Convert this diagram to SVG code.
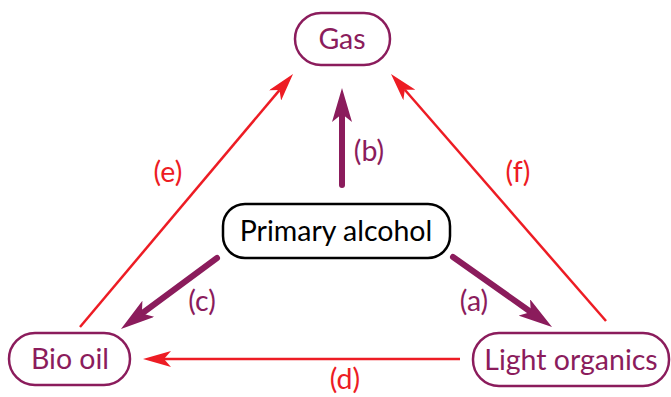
<svg xmlns="http://www.w3.org/2000/svg" width="671" height="397" viewBox="0 0 671 397">
<defs>
<style>
.node rect{fill:#fff;stroke:#8B1C5C;stroke-width:2.5}
.node.main rect{stroke:#000}
text{font-family:Lato,"Open Sans",sans-serif;font-size:28.5px;text-anchor:middle}
.node text{fill:#8B1C5C}
.node.main text{fill:#000}
.thick{stroke:#8B1C5C;stroke-width:6;stroke-linecap:round;fill:none}
.thin{stroke:#ED1C24;stroke-width:2.5;fill:none}
.lbl-p{fill:#8B1C5C}
.lbl-r{fill:#ED1C24}
</style>
<marker id="hp" markerUnits="userSpaceOnUse" markerWidth="34" markerHeight="20" refX="8" refY="10" orient="auto" viewBox="0 0 34 20">
<path d="M0,0 L34,10 L0,20 L8,10 Z" fill="#8B1C5C"/>
</marker>
<marker id="hr" markerUnits="userSpaceOnUse" markerWidth="28" markerHeight="16" refX="7" refY="8" orient="auto" viewBox="0 0 28 16">
<path d="M0,0 L28,8 L0,16 L7,8 Z" fill="#ED1C24"/>
</marker>
</defs>
<rect width="671" height="397" fill="#fff"/>
<g id="connectors">
<line class="thick" x1="342" y1="185" x2="342" y2="114" marker-end="url(#hp)"/>
<line class="thick" x1="217" y1="258" x2="141.9" y2="313.5" marker-end="url(#hp)"/>
<line class="thick" x1="453" y1="257" x2="530.8" y2="312" marker-end="url(#hp)"/>
<line class="thin" x1="460" y1="359" x2="164" y2="359" marker-end="url(#hr)"/>
<line class="thin" x1="80" y1="327" x2="279.5" y2="90.1" marker-end="url(#hr)"/>
<line class="thin" x1="606" y1="321" x2="404.8" y2="89.8" marker-end="url(#hr)"/>
<text class="lbl-p" x="369" y="161">(b)</text>
<text class="lbl-p" x="202" y="311">(c)</text>
<text class="lbl-p" x="474" y="311">(a)</text>
<text class="lbl-r" x="345" y="389">(d)</text>
<text class="lbl-r" x="168" y="182">(e)</text>
<text class="lbl-r" x="518" y="182">(f)</text>
</g>
<g id="gas" class="node"><rect x="295" y="13" width="95" height="52" rx="26"/><text x="342" y="49">Gas</text></g>
<g id="primary" class="node main"><rect x="223" y="204" width="227" height="54" rx="22"/><text x="336" y="241">Primary alcohol</text></g>
<g id="biooil" class="node"><rect x="9" y="333" width="121" height="52" rx="26"/><text x="70" y="369">Bio oil</text></g>
<g id="light" class="node"><rect x="473" y="333" width="196" height="53" rx="26"/><text x="571" y="370">Light organics</text></g>
</svg>
